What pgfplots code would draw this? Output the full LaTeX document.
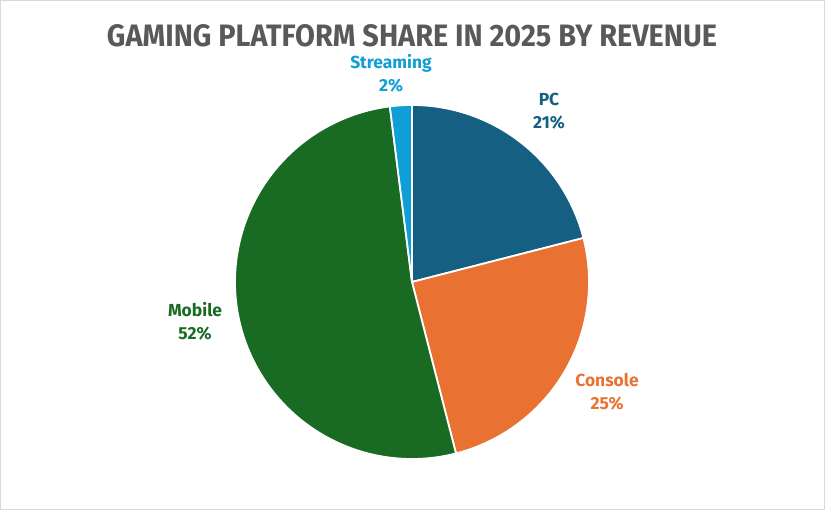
\documentclass[border=0pt]{standalone}
\usepackage{fontspec}
\setmainfont{Fira Sans}
\usepackage{graphicx}
\usepackage{pgfplots}
\pgfplotsset{compat=1.18}
\usepgfplotslibrary{polar}

\definecolor{pccol}{HTML}{156082}
\definecolor{consolecol}{HTML}{E97132}
\definecolor{mobilecol}{HTML}{196B24}
\definecolor{streamcol}{HTML}{0F9ED5}
\definecolor{titlecol}{HTML}{595959}

% revenue shares (percent), clockwise from 12 o'clock
\def\sharePC{21}
\def\shareConsole{25}
\def\shareMobile{52}
\def\shareStream{2}

\pgfmathsetmacro\aA{90}
\pgfmathsetmacro\aB{\aA-3.6*\sharePC}
\pgfmathsetmacro\aC{\aB-3.6*\shareConsole}
\pgfmathsetmacro\aD{\aC-3.6*\shareMobile}
\pgfmathsetmacro\aE{\aD-3.6*\shareStream}

\begin{document}
\begin{tikzpicture}
\useasboundingbox (0bp,0bp) rectangle (825bp,510bp);
\draw[color=black!15, line width=1.2bp] (0.6bp,0.6bp) rectangle (824.4bp,509.4bp);

\begin{polaraxis}[
    at={(412bp,228bp)}, anchor=origin,
    width=354bp, height=354bp, scale only axis,
    hide axis, ymin=0, ymax=1,
    clip=false,
]
\addplot[fill=pccol, draw=white, line width=1.8bp, domain=\aB:\aA, samples=80]
  {1} -- (axis cs:0,0) -- cycle;
\addplot[fill=consolecol, draw=white, line width=1.8bp, domain=\aC:\aB, samples=80]
  {1} -- (axis cs:0,0) -- cycle;
\addplot[fill=mobilecol, draw=white, line width=1.8bp, domain=\aD:\aC, samples=160]
  {1} -- (axis cs:0,0) -- cycle;
\addplot[fill=streamcol, draw=white, line width=1.8bp, domain=\aE:\aD, samples=10]
  {1} -- (axis cs:0,0) -- cycle;
\end{polaraxis}

\node[text=titlecol, anchor=center] at (412bp,474bp)
  {\resizebox{610bp}{22bp}{\bfseries GAMING PLATFORM SHARE IN 2025 BY REVENUE}};

\tikzset{lbl/.style={align=center, font=\fontsize{17.5}{23}\selectfont\bfseries}}
\node[lbl, text=pccol] at (549bp,399bp) {PC\\\sharePC\%};
\node[lbl, text=consolecol] at (607bp,118bp) {Console\\\shareConsole\%};
\node[lbl, text=mobilecol] at (195bp,189bp) {Mobile\\\shareMobile\%};
\node[lbl, text=streamcol] at (391bp,437bp) {Streaming\\\shareStream\%};
\end{tikzpicture}
\end{document}
